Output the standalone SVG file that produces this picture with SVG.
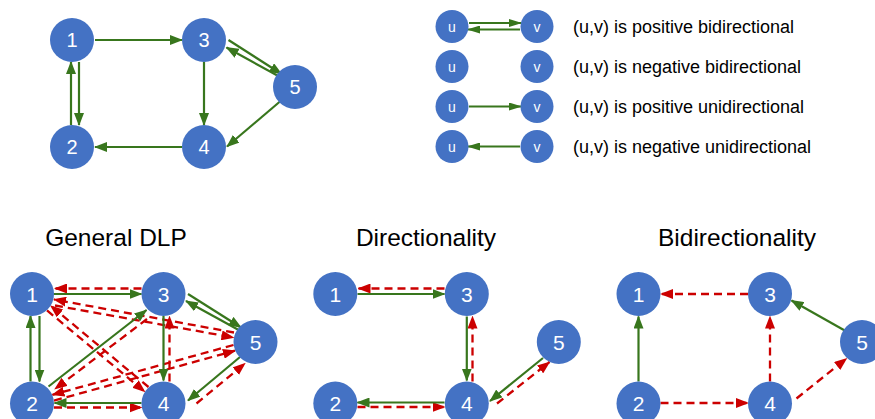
<svg xmlns="http://www.w3.org/2000/svg" width="875" height="419" viewBox="0 0 875 419">
<style>
.n circle{fill:#4472c4}
.n text{fill:#fff;font-family:"Liberation Sans",Arial,sans-serif;text-anchor:middle}
.t text{font-size:20px}
.b text{font-size:21px}
.l text{font-size:14px}
.p{stroke:#38761d;stroke-width:2.2;fill:none;marker-end:url(#ag)}
.q{stroke:#cc0000;stroke-width:2.3;stroke-dasharray:8 5;fill:none;marker-end:url(#ar)}
.pl{stroke:#38761d;stroke-width:2.2;fill:none;marker-end:url(#agl)}
.cap{font-family:"Liberation Sans",Arial,sans-serif;fill:#000}
.leg{font-size:18px}
.ttl{font-size:24.5px;text-anchor:middle}
</style>
<defs>
<marker id="ag" markerUnits="userSpaceOnUse" markerWidth="13" markerHeight="10" refX="12" refY="5" orient="auto"><path d="M0,0L13,5L0,10z" fill="#38761d"/></marker>
<marker id="ar" markerUnits="userSpaceOnUse" markerWidth="13" markerHeight="10" refX="12" refY="5" orient="auto"><path d="M0,0L13,5L0,10z" fill="#cc0000"/></marker>
<marker id="agl" markerUnits="userSpaceOnUse" markerWidth="13" markerHeight="8" refX="12" refY="4" orient="auto"><path d="M0,0L13,4L0,8z" fill="#38761d"/></marker>
</defs>

<!-- Top graph -->
<g id="top-edges">
<path class="p" d="M95,40L182,40"/>
<path class="p" d="M79,62L79,125"/>
<path class="p" d="M71,125L71,62"/>
<path class="p" d="M204,62L204,125"/>
<path class="p" d="M228.5,40L281.5,74"/>
<path class="p" d="M281,77.5L226.5,47.5"/>
<path class="p" d="M280,101.5L227,146.5"/>
<path class="p" d="M182,147L95,147"/>
</g>
<g id="top-n1" class="n t"><circle cx="72" cy="40" r="22"/><text x="72" y="47">1</text></g>
<g id="top-n3" class="n t"><circle cx="204" cy="40" r="22"/><text x="204" y="47">3</text></g>
<g id="top-n5" class="n t"><circle cx="295" cy="87" r="22"/><text x="295" y="94">5</text></g>
<g id="top-n2" class="n t"><circle cx="72" cy="147" r="22"/><text x="72" y="154">2</text></g>
<g id="top-n4" class="n t"><circle cx="204" cy="147" r="22"/><text x="204" y="154">4</text></g>

<!-- Legend -->
<g id="legend-edges">
<path class="pl" d="M469,23L521,23"/>
<path class="pl" d="M520,29.5L468,29.5"/>
<path class="pl" d="M469,106.5L521,106.5"/>
<path class="pl" d="M520,146.5L468,146.5"/>
</g>
<g id="leg-u1" class="n l"><circle cx="452" cy="26.5" r="16.5"/><text x="452" y="31.5">u</text></g>
<g id="leg-v1" class="n l"><circle cx="537" cy="26.5" r="16.5"/><text x="537" y="31.5">v</text></g>
<g id="leg-u2" class="n l"><circle cx="452" cy="66.5" r="16.5"/><text x="452" y="71.5">u</text></g>
<g id="leg-v2" class="n l"><circle cx="537" cy="66.5" r="16.5"/><text x="537" y="71.5">v</text></g>
<g id="leg-u3" class="n l"><circle cx="452" cy="106.5" r="16.5"/><text x="452" y="111.5">u</text></g>
<g id="leg-v3" class="n l"><circle cx="537" cy="106.5" r="16.5"/><text x="537" y="111.5">v</text></g>
<g id="leg-u4" class="n l"><circle cx="452" cy="146.5" r="16.5"/><text x="452" y="151.5">u</text></g>
<g id="leg-v4" class="n l"><circle cx="537" cy="146.5" r="16.5"/><text x="537" y="151.5">v</text></g>
<g id="legend-text" class="cap leg">
<text x="573" y="33">(u,v) is positive bidirectional</text>
<text x="573" y="73">(u,v) is negative bidirectional</text>
<text x="573" y="113">(u,v) is positive unidirectional</text>
<text x="573" y="153">(u,v) is negative unidirectional</text>
</g>

<!-- Titles -->
<g id="titles" class="cap ttl">
<text x="116" y="246">General DLP</text>
<text x="426" y="246">Directionality</text>
<text x="737" y="246">Bidirectionality</text>
</g>

<!-- General DLP -->
<g id="gdlp-edges">
<path class="q" d="M141.5,288.5L55,288.5"/>
<path class="q" d="M54,407.5L141.5,407.5"/>
<path class="q" d="M169.5,381.5L169.5,316.5"/>
<path class="q" d="M196.5,403.5L245,363.5"/>
<path class="q" d="M147,319L55,389"/>
<path class="q" d="M234,332.5L54,299.5"/>
<path class="q" d="M55,305.5L233.5,337.5"/>
<path class="q" d="M148.5,387L50.8,305.8"/>
<path class="q" d="M47,310.4L144.7,391.7"/>
<path class="q" d="M54,400.6L235,350.7"/>
<path class="q" d="M233.5,345L52.4,394.8"/>
<path class="p" d="M53.5,294L141.5,294"/>
<path class="p" d="M39.5,316L39.5,381.5"/>
<path class="p" d="M30.5,381.5L30.5,316"/>
<path class="p" d="M48.5,386.5L146.5,310"/>
<path class="p" d="M163.5,316L163.5,380.5"/>
<path class="p" d="M188,294L241,327.5"/>
<path class="p" d="M240.5,331L186,301"/>
<path class="p" d="M240,357L188,400.5"/>
<path class="p" d="M141.5,403L54.5,403"/>
</g>
<g id="gdlp-n1" class="n b"><circle cx="32" cy="294" r="22"/><text x="32" y="301.5">1</text></g>
<g id="gdlp-n3" class="n b"><circle cx="163.5" cy="294" r="22"/><text x="163.5" y="301.5">3</text></g>
<g id="gdlp-n5" class="n b"><circle cx="255.5" cy="342" r="22"/><text x="255.5" y="349.5">5</text></g>
<g id="gdlp-n2" class="n b"><circle cx="32" cy="403.5" r="22"/><text x="32" y="411">2</text></g>
<g id="gdlp-n4" class="n b"><circle cx="163.5" cy="403.5" r="22"/><text x="163.5" y="411">4</text></g>

<!-- Directionality -->
<g id="dir-edges">
<path class="q" d="M444.5,288.5L358.5,288.5"/>
<path class="q" d="M472.5,381.5L472.5,316.5"/>
<path class="q" d="M357.5,407L444.5,407"/>
<path class="q" d="M497,403.5L549.5,362"/>
<path class="p" d="M357.5,294L444.5,294"/>
<path class="p" d="M466.8,316.5L466.8,380.5"/>
<path class="p" d="M444.5,402.5L357.5,402.5"/>
<path class="p" d="M543,358L490,401"/>
</g>
<g id="dir-n1" class="n b"><circle cx="335.3" cy="294" r="22"/><text x="335.3" y="301.5">1</text></g>
<g id="dir-n3" class="n b"><circle cx="466.8" cy="294" r="22"/><text x="466.8" y="301.5">3</text></g>
<g id="dir-n5" class="n b"><circle cx="558.8" cy="342" r="22"/><text x="558.8" y="349.5">5</text></g>
<g id="dir-n2" class="n b"><circle cx="335.3" cy="403.5" r="22"/><text x="335.3" y="411">2</text></g>
<g id="dir-n4" class="n b"><circle cx="466.8" cy="403.5" r="22"/><text x="466.8" y="411">4</text></g>

<!-- Bidirectionality -->
<g id="bi-edges">
<path class="q" d="M748,294L661,294"/>
<path class="q" d="M660.5,403L748,403"/>
<path class="q" d="M770,381.5L770,316.5"/>
<path class="q" d="M796.5,398.5L846.5,358.5"/>
<path class="p" d="M638.5,381.5L638.5,316.5"/>
<path class="p" d="M846.5,331.5L791.5,300.5"/>
</g>
<g id="bi-n1" class="n b"><circle cx="638.5" cy="294" r="22"/><text x="638.5" y="301.5">1</text></g>
<g id="bi-n3" class="n b"><circle cx="770" cy="294" r="22"/><text x="770" y="301.5">3</text></g>
<g id="bi-n5" class="n b"><circle cx="862" cy="342" r="22"/><text x="862" y="349.5">5</text></g>
<g id="bi-n2" class="n b"><circle cx="638.5" cy="403.5" r="22"/><text x="638.5" y="411">2</text></g>
<g id="bi-n4" class="n b"><circle cx="770" cy="403.5" r="22"/><text x="770" y="411">4</text></g>
</svg>
